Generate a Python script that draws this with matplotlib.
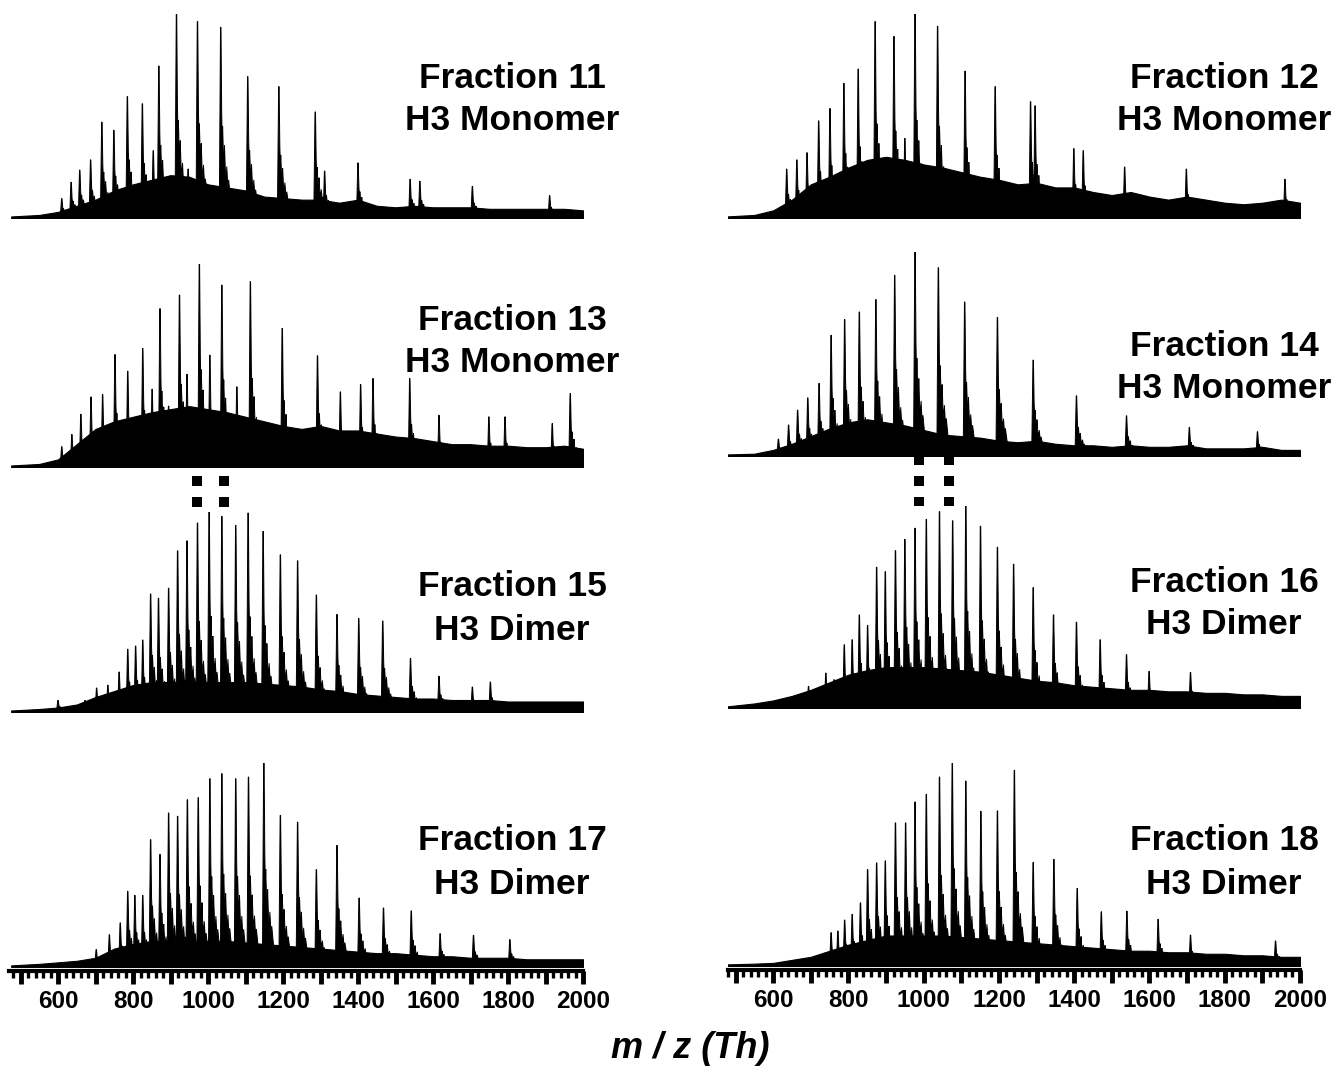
import matplotlib
matplotlib.use("Agg")
import matplotlib.pyplot as plt
import numpy as np
from matplotlib.ticker import MultipleLocator
from matplotlib.transforms import blended_transform_factory

plt.rcParams['font.family'] = ['Liberation Sans', 'DejaVu Sans']

# --- data (m/z, relative height) ---
NOISE_MZ = [475] + list(range(550, 2001, 50))

f11_mz = [610, 635, 658, 687, 717, 749, 785, 825, 854, 869, 916, 947, 972, 1034,
          1106, 1189, 1286, 1311, 1400, 1539, 1565, 1705, 1911]
f11_h = [0.095, 0.175, 0.235, 0.285, 0.47, 0.43, 0.595, 0.56, 0.33, 0.745, 1.0, 0.24,
         0.963, 0.935, 0.693, 0.644, 0.52, 0.23, 0.27, 0.19, 0.18, 0.155, 0.11]
f11_noise = [0.01, 0.02, 0.04, 0.08, 0.12, 0.18, 0.22, 0.25, 0.28, 0.27, 0.22, 0.2, 0.18,
             0.14, 0.13, 0.12, 0.12, 0.1, 0.12, 0.08, 0.07, 0.08, 0.07, 0.07, 0.07, 0.06,
             0.06, 0.06, 0.06, 0.06, 0.05]

f12_mz = [636, 663, 690, 721, 751, 788, 826, 871, 921, 950, 977, 1037, 1110, 1190,
          1284, 1296, 1399, 1424, 1534, 1698, 1960]
f12_h = [0.24, 0.285, 0.32, 0.476, 0.537, 0.66, 0.73, 0.963, 0.89, 0.39, 1.0, 0.94,
         0.72, 0.644, 0.57, 0.55, 0.34, 0.33, 0.25, 0.24, 0.19]
f12_noise = [0.01, 0.02, 0.05, 0.12, 0.22, 0.27, 0.33, 0.38, 0.4, 0.38, 0.35, 0.33, 0.3,
             0.27, 0.25, 0.22, 0.23, 0.2, 0.2, 0.17, 0.15, 0.17, 0.14, 0.12, 0.14, 0.12,
             0.1, 0.09, 0.1, 0.12, 0.1]

f13_mz = [610, 637, 661, 688, 719, 752, 786, 826, 851, 872, 895, 924, 944, 977, 1005,
          1037, 1077, 1113, 1198, 1292, 1353, 1407, 1440, 1538, 1616, 1749, 1792, 1918, 1966]
f13_h = [0.1, 0.16, 0.26, 0.345, 0.357, 0.554, 0.472, 0.584, 0.383, 0.78, 0.3, 0.847,
         0.457, 1.0, 0.551, 0.896, 0.395, 0.913, 0.683, 0.548, 0.37, 0.406, 0.436, 0.436,
         0.255, 0.247, 0.247, 0.214, 0.362]
f13_noise = [0.01, 0.02, 0.05, 0.15, 0.25, 0.3, 0.33, 0.36, 0.38, 0.4, 0.38, 0.36, 0.33,
             0.3, 0.27, 0.25, 0.27, 0.24, 0.24, 0.22, 0.2, 0.19, 0.17, 0.15, 0.15, 0.14,
             0.14, 0.13, 0.13, 0.14, 0.12]

f14_mz = [614, 641, 665, 692, 722, 754, 790, 829, 873, 923, 977, 1039, 1109, 1196,
          1291, 1406, 1539, 1706, 1887]
f14_h = [0.083, 0.152, 0.225, 0.285, 0.356, 0.592, 0.669, 0.706, 0.767, 0.886, 1.0,
         0.923, 0.755, 0.679, 0.47, 0.295, 0.197, 0.14, 0.119]
f14_noise = [0.01, 0.015, 0.04, 0.08, 0.13, 0.18, 0.22, 0.24, 0.22, 0.2, 0.17, 0.14, 0.13,
             0.12, 0.1, 0.09, 0.1, 0.08, 0.07, 0.07, 0.06, 0.07, 0.06, 0.06, 0.07, 0.05,
             0.05, 0.05, 0.06, 0.04, 0.04]

f15_mz = [600, 672, 703, 733, 763, 786, 807, 826, 847, 868, 895, 919, 944, 972, 1003,
          1037, 1074, 1107, 1147, 1193, 1239, 1289, 1344, 1402, 1466, 1540, 1616, 1705, 1753]
f15_h = [0.058, 0.058, 0.12, 0.134, 0.2, 0.314, 0.33, 0.36, 0.59, 0.569, 0.619, 0.806,
         0.856, 0.945, 1.0, 0.978, 0.933, 0.995, 0.903, 0.786, 0.756, 0.585, 0.488, 0.468,
         0.455, 0.268, 0.179, 0.125, 0.15]
f15_noise = [0.01, 0.02, 0.03, 0.05, 0.1, 0.14, 0.18, 0.2, 0.2, 0.2, 0.2, 0.2, 0.2, 0.19,
             0.18, 0.17, 0.15, 0.14, 0.12, 0.11, 0.1, 0.09, 0.09, 0.08, 0.08, 0.08, 0.07,
             0.07, 0.07, 0.07, 0.07]

f16_mz = [694, 740, 762, 789, 810, 829, 851, 875, 898, 925, 950, 977, 1007, 1042, 1077,
          1112, 1151, 1196, 1239, 1291, 1345, 1406, 1469, 1539, 1599, 1709]
f16_h = [0.107, 0.173, 0.14, 0.313, 0.338, 0.461, 0.409, 0.697, 0.675, 0.779, 0.835,
         0.89, 0.934, 0.972, 0.927, 1.0, 0.9, 0.796, 0.712, 0.596, 0.461, 0.425, 0.338,
         0.264, 0.181, 0.176]
f16_noise = [0.01, 0.03, 0.05, 0.08, 0.12, 0.17, 0.22, 0.25, 0.27, 0.27, 0.27, 0.26, 0.25,
             0.24, 0.22, 0.2, 0.18, 0.17, 0.15, 0.14, 0.13, 0.12, 0.12, 0.11, 0.11, 0.1,
             0.1, 0.09, 0.09, 0.08, 0.08]

f17_mz = [702, 737, 766, 786, 805, 826, 847, 872, 895, 919, 945, 974, 1005, 1037, 1074,
          1108, 1149, 1193, 1239, 1289, 1344, 1403, 1468, 1542, 1619, 1708, 1805]
f17_h = [0.085, 0.158, 0.216, 0.371, 0.351, 0.351, 0.624, 0.552, 0.755, 0.739, 0.82,
         0.83, 0.923, 0.948, 0.923, 0.931, 1.0, 0.743, 0.71, 0.477, 0.596, 0.338, 0.289,
         0.275, 0.163, 0.155, 0.134]
f17_noise = [0.01, 0.02, 0.03, 0.04, 0.06, 0.12, 0.15, 0.17, 0.17, 0.17, 0.17, 0.17, 0.16,
             0.15, 0.14, 0.13, 0.12, 0.11, 0.1, 0.09, 0.09, 0.08, 0.07, 0.07, 0.06, 0.06,
             0.06, 0.05, 0.05, 0.05, 0.05]

f18_mz = [737, 754, 772, 790, 810, 832, 851, 875, 898, 925, 952, 977, 1007, 1042, 1076,
          1112, 1152, 1196, 1241, 1291, 1346, 1408, 1472, 1540, 1623, 1709, 1935]
f18_h = [0.062, 0.164, 0.172, 0.226, 0.254, 0.311, 0.475, 0.508, 0.518, 0.705, 0.705,
         0.808, 0.846, 0.931, 1.0, 0.911, 0.762, 0.764, 0.964, 0.51, 0.525, 0.382, 0.267,
         0.27, 0.23, 0.152, 0.123]
f18_noise = [0.01, 0.015, 0.02, 0.04, 0.06, 0.1, 0.14, 0.17, 0.2, 0.2, 0.2, 0.2, 0.19,
             0.18, 0.17, 0.16, 0.15, 0.14, 0.13, 0.12, 0.11, 0.1, 0.1, 0.09, 0.09, 0.08,
             0.08, 0.07, 0.07, 0.06, 0.06]

titles = ['Fraction 11\nH3 Monomer', 'Fraction 12\nH3 Monomer',
          'Fraction 13\nH3 Monomer', 'Fraction 14\nH3 Monomer',
          'Fraction 15\nH3 Dimer', 'Fraction 16\nH3 Dimer',
          'Fraction 17\nH3 Dimer', 'Fraction 18\nH3 Dimer']
spectra = [(f11_mz, f11_h, f11_noise), (f12_mz, f12_h, f12_noise),
           (f13_mz, f13_h, f13_noise), (f14_mz, f14_h, f14_noise),
           (f15_mz, f15_h, f15_noise), (f16_mz, f16_h, f16_noise),
           (f17_mz, f17_h, f17_noise), (f18_mz, f18_h, f18_noise)]

marker_mz_left = [971, 1043]
marker_mz_right = [987, 1067]

tick_values = [600, 800, 1000, 1200, 1400, 1600, 1800, 2000]
tick_labels = ['600', '800', '1000', '1200', '1400', '1600', '1800', '2000']

# --- layout in pixels ---
W, H = 1337, 1068
fig = plt.figure(figsize=(W / 100, H / 100), dpi=100)

col_x = [(9.25, 583, 470), (728, 1300, 480)]        # x0, x1, xmin
panel_y = [(14, 218), (14, 218), (264, 467), (252, 456),
           (512, 712), (506, 708), (763, 967), (763, 966)]  # top, baseline
text_xy = [(512, 79, 121), (1224, 79, 121), (512, 320, 362), (1224, 346, 388),
           (512, 587, 630), (1224, 583, 625), (512, 841, 884), (1224, 841, 884)]

# shape of one charge-state peak: sharp apex with an adduct tail to the right
PK_DX = [-4, -0.6, 0.6, 2.5, 4, 5, 7, 9, 10, 12, 15, 16, 19, 21, 26, 34]
PK_DY = [0, 1, 1, 0.55, 0.4, 0.48, 0.34, 0.3, 0.38, 0.26, 0.2, 0.27, 0.16, 0.2, 0.1, 0]


def draw_peak(ax, m, h):
    ax.fill([m + d for d in PK_DX], [h * f for f in PK_DY],
            color='black', lw=0.7, ec='black')


axes = []
for i, (mz, hh, noise) in enumerate(spectra):
    x0, x1, xmin = col_x[i % 2]
    top, base = panel_y[i]
    bottom_row = i >= 6
    y_lo = -0.02 if bottom_row else 0
    base_px = base + (4 if bottom_row else 0)
    ax = fig.add_axes([x0 / W, 1 - base_px / H, (x1 - x0) / W, (base_px - top) / H])
    ax.set_xlim(xmin, 2000)
    ax.set_ylim(y_lo, 1.0)
    ax.fill_between(NOISE_MZ, 0, [0.75 * v for v in noise], color='black', lw=0.8,
                    ec='black')
    for m, h in zip(mz, hh):
        draw_peak(ax, m, h)
    for s in ['top', 'left', 'right']:
        ax.spines[s].set_visible(False)
    ax.set_yticks([])
    if bottom_row:
        ax.spines['bottom'].set_linewidth(3)
        ax.set_xticks(list(range(500, 2001, 100)))
        ax.set_xticklabels([tick_labels[tick_values.index(v)] if v in tick_values else ''
                            for v in range(500, 2001, 100)],
                           fontsize=17.5, fontweight='bold')
        ax.xaxis.set_minor_locator(MultipleLocator(20))
        ax.tick_params(axis='x', which='major', length=9, width=3.5, pad=5, direction='out')
        ax.tick_params(axis='x', which='minor', length=5, width=2.4, direction='out')
    else:
        ax.spines['bottom'].set_visible(False)
        ax.set_xticks([])
    tx, ty1, ty2 = text_xy[i]
    line1, line2 = titles[i].split('\n')
    fig.text(tx / W, 1 - ty1 / H, line1, ha='center', va='center',
             fontsize=25.5, fontweight='bold')
    fig.text(tx / W, 1 - ty2 / H, line2, ha='center', va='center',
             fontsize=25.5, fontweight='bold')
    axes.append(ax)

# dotted guide marks linking monomer and dimer panels
for ax, marks in [(axes[2], marker_mz_left), (axes[3], marker_mz_right)]:
    tr = blended_transform_factory(ax.transData, fig.transFigure)
    for m in marks:
        ax.plot([m, m], [1 - 455 / H, 1 - 524 / H], transform=tr, color='black',
                lw=7.2, dashes=(1.0, 1.1), solid_capstyle='butt',
                dash_capstyle='butt', clip_on=False)

fig.text(690 / W, 1 - 1048 / H, 'm / z (Th)', ha='center', va='center',
         fontsize=26, fontweight='bold', fontstyle='italic')

fig.savefig('out.png', dpi=100, facecolor='white')
